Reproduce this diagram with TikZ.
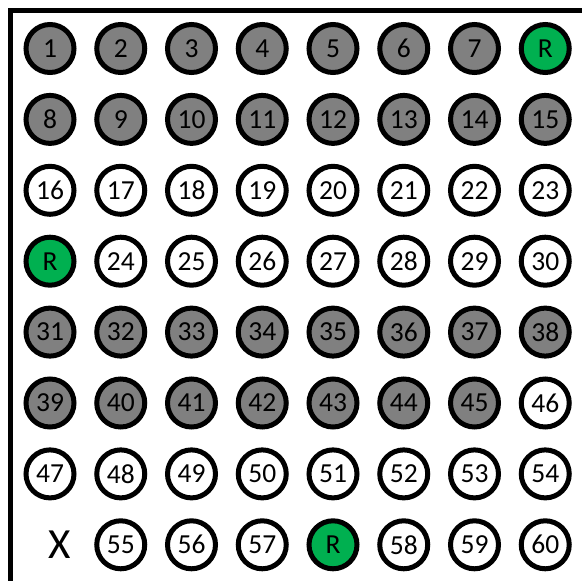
\documentclass[tikz,border=0pt]{standalone}
\usepackage{fontspec}
\setmainfont{Carlito}
\definecolor{seatgray}{HTML}{808080}
\definecolor{seatgreen}{HTML}{00B050}
\begin{document}
\begin{tikzpicture}[x=1pt,y=-1pt,
  seat/.style={circle,draw=black,line width=5pt,minimum size=48pt,inner sep=0pt,font=\fontsize{27.5}{28}\selectfont},
  gr/.style={seat,fill=seatgray},
  gn/.style={seat,fill=seatgreen},
  wh/.style={seat,fill=white},
  border/.style={line width=5pt}]
\useasboundingbox (0,0) rectangle (582,581);
\draw[border] (10.5,581) -- (10.5,10.5) -- (582,10.5);
\def\cx#1{50+70.75*#1}
\def\cy#1{48.5+70.9*#1}
% row 1
\foreach \t [count=\j from 0] in {1,2,3,4,5,6,7}
  \node[gr] (s\t) at ({\cx{\j}},{\cy{0}}) {\t};
\node[gn] (r1) at ({\cx{7}},{\cy{0}}) {R};
% row 2
\foreach \t [count=\j from 0] in {8,9,10,11,12,13,14,15}
  \node[gr] (s\t) at ({\cx{\j}},{\cy{1}}) {\t};
% row 3
\foreach \t [count=\j from 0] in {16,17,18,19,20,21,22,23}
  \node[wh] (s\t) at ({\cx{\j}},{\cy{2}}) {\t};
% row 4
\node[gn] (r2) at ({\cx{0}},{\cy{3}}) {R};
\foreach \t [count=\j from 1] in {24,25,26,27,28,29,30}
  \node[wh] (s\t) at ({\cx{\j}},{\cy{3}}) {\t};
% row 5
\foreach \t [count=\j from 0] in {31,32,33,34,35,36,37,38}
  \node[gr] (s\t) at ({\cx{\j}},{\cy{4}}) {\t};
% row 6
\foreach \t [count=\j from 0] in {39,40,41,42,43,44,45}
  \node[gr] (s\t) at ({\cx{\j}},{\cy{5}}) {\t};
\node[wh] (s46) at ({\cx{7}},{\cy{5}}) {46};
% row 7
\foreach \t [count=\j from 0] in {47,48,49,50,51,52,53,54}
  \node[wh] (s\t) at ({\cx{\j}},{\cy{6}}) {\t};
% row 8
\node[font=\fontsize{43}{43}\selectfont] (x) at (60,{\cy{7}}) {X};
\foreach \t [count=\j from 1] in {55,56,57}
  \node[wh] (s\t) at ({\cx{\j}},{\cy{7}}) {\t};
\node[gn] (r3) at ({\cx{4}},{\cy{7}}) {R};
\foreach \t [count=\j from 5] in {58,59,60}
  \node[wh] (s\t) at ({\cx{\j}},{\cy{7}}) {\t};
\end{tikzpicture}
\end{document}
